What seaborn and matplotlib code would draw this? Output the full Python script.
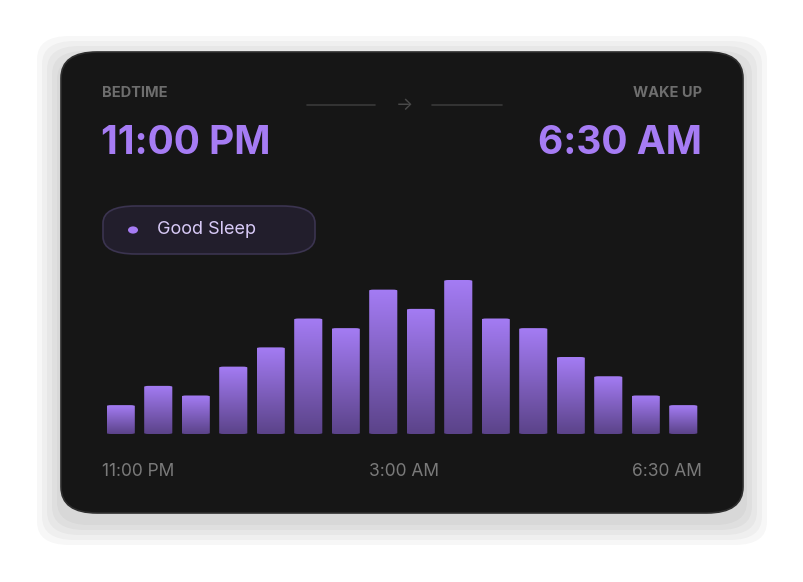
import numpy as np
import pandas as pd
import matplotlib
matplotlib.use("Agg")
import matplotlib.pyplot as plt
import seaborn as sns
from matplotlib.patches import FancyBboxPatch, Circle
from matplotlib.lines import Line2D

segments = list(range(16))
values = [3, 5, 4, 7, 9, 12, 11, 15, 13, 16, 12, 11, 8, 6, 4, 3]
axis_labels = ["11:00 PM", "3:00 AM", "6:30 AM"]
bedtime = "11:00 PM"
wake = "6:30 AM"
quality = "Good Sleep"

sns.set_theme(style="white")
plt.rcParams['font.family'] = ['Inter', 'DejaVu Sans']

W, H = 804, 582
fig = plt.figure(figsize=(W/100, H/100), dpi=100)
fig.patch.set_facecolor("white")

def fx(x): return x / W
def fy(y): return 1 - y / H

# shadow
for i, a in enumerate([0.03, 0.03, 0.03, 0.03, 0.03]):
    g = 6 + i * 5
    fig.patches.append(FancyBboxPatch((fx(61 - g + 2), fy(513 + g + 6)), fx(682 + 2*g - 4), (461 + 2*g - 4)/H,
                                      boxstyle="round,pad=0,rounding_size=0.04", transform=fig.transFigure,
                                      facecolor="black", edgecolor="none", alpha=a, zorder=0))
fig.patches.append(FancyBboxPatch((fx(61), fy(513)), fx(682), 461/H,
                                  boxstyle="round,pad=0,rounding_size=0.045", transform=fig.transFigure,
                                  facecolor="#161616", edgecolor="#2e2e2e", linewidth=1.2, zorder=1))

gray = "#6e6e6e"
purple = "#a67cf4"
fig.text(fx(102), fy(93), "BEDTIME", color=gray, fontsize=10.5, fontweight="bold", va="center", ha="left", zorder=3)
fig.text(fx(702), fy(93), "WAKE UP", color=gray, fontsize=10.5, fontweight="bold", va="center", ha="right", zorder=3)
fig.text(fx(101), fy(143), bedtime, color=purple, fontsize=28, fontweight="bold", va="center", ha="left", zorder=3)
fig.text(fx(702), fy(143), wake, color=purple, fontsize=28, fontweight="bold", va="center", ha="right", zorder=3)
for x0, x1 in [(307, 375), (432, 502)]:
    fig.lines.append(Line2D([fx(x0), fx(x1)], [fy(105), fy(105)], transform=fig.transFigure, color="#3a3a3a", lw=1.2, zorder=3))
fig.text(fx(404), fy(105), "→", color="#4a4a4a", fontsize=13, va="center", ha="center", zorder=3)

fig.patches.append(FancyBboxPatch((fx(103), fy(254)), fx(212), 48/H,
                                  boxstyle="round,pad=0,rounding_size=0.041", transform=fig.transFigure,
                                  facecolor="#221e2c", edgecolor="#3b3450", linewidth=1.2, zorder=2, mutation_aspect=0.72))
fig.patches.append(Circle((fx(133), fy(230)), 5/W, transform=fig.transFigure, facecolor=purple, edgecolor="none", zorder=3))
fig.text(fx(157), fy(230), quality, color="#d8caf7", fontsize=13, va="center", ha="left", zorder=3)

ax = fig.add_axes([fx(102), fy(434), fx(600), 154/H])
ax.set_zorder(4)
df = pd.DataFrame({"seg": segments, "val": values})
sns.barplot(data=df, x="seg", y="val", ax=ax, width=0.75, color=purple, saturation=1)
ax.set_ylim(0, 16)
ax.set_xlim(-0.5, 15.5)
ax.axis("off")
ax.patch.set_alpha(0)

cmap = matplotlib.colors.LinearSegmentedColormap.from_list("g", ["#5b4389", "#a47cf4"])
grad = np.linspace(0, 1, 256).reshape(-1, 1)
for p in list(ax.patches):
    x, y0 = p.get_x(), p.get_y()
    w, h = p.get_width(), p.get_height()
    r = FancyBboxPatch((x, 0), w, h, boxstyle="round,pad=0,rounding_size=0.12", mutation_aspect=0.8,
                       facecolor="none", edgecolor="none")
    ax.add_patch(r)
    im = ax.imshow(grad, extent=[x, x + w, 0, h], origin="lower", cmap=cmap, aspect="auto", zorder=2)
    im.set_clip_path(r)
    p.set_visible(False)
ax.set_xlim(-0.5, 15.5)
ax.set_ylim(0, 16)

lab_c = "#7a7a7a"
fig.text(fx(102), fy(472), axis_labels[0], color=lab_c, fontsize=12.5, va="center", ha="left", zorder=3)
fig.text(fx(404), fy(472), axis_labels[1], color=lab_c, fontsize=12.5, va="center", ha="center", zorder=3)
fig.text(fx(702), fy(472), axis_labels[2], color=lab_c, fontsize=12.5, va="center", ha="right", zorder=3)

fig.savefig("out.png", dpi=100, facecolor="white")
